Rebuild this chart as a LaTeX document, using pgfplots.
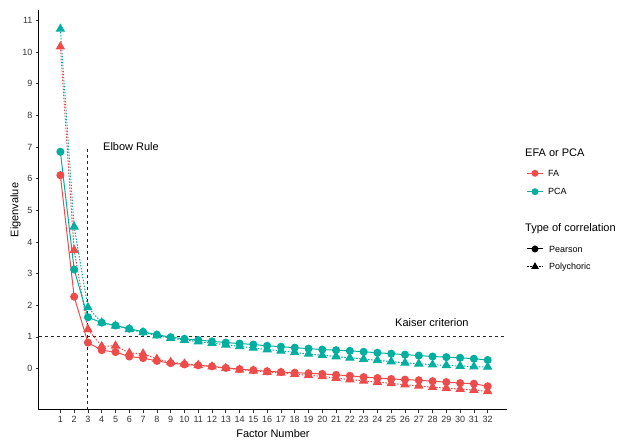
\documentclass[border=0pt]{standalone}
\usepackage{fontspec}
\setmainfont{Liberation Sans}
\usepackage{pgfplots}
\usepackage{pgfplotstable}
\pgfplotsset{compat=1.18}
\definecolor{cfa}{HTML}{EE4B4B}
\definecolor{cpca}{HTML}{00AFA0}
\definecolor{ticktext}{HTML}{333333}

\pgfplotstableread{
f  fap   fapoly  pcap  pcapoly
1  6.11  10.17   6.85  10.73
2  2.27  3.74    3.13  4.48
3  0.82  1.24    1.62  1.93
4  0.58  0.70    1.45  1.45
5  0.52  0.72    1.36  1.35
6  0.38  0.49    1.26  1.24
7  0.33  0.47    1.16  1.14
8  0.24  0.30    1.07  1.04
9  0.17  0.20    0.99  0.96
10 0.13  0.15    0.94  0.90
11 0.10  0.11    0.90  0.85
12 0.07  0.06    0.86  0.80
13 0.02  0.01    0.82  0.75
14 -0.02 -0.04   0.79  0.70
15 -0.05 -0.07   0.76  0.65
16 -0.09 -0.11   0.72  0.60
17 -0.11 -0.14   0.69  0.56
18 -0.13 -0.18   0.66  0.51
19 -0.15 -0.21   0.63  0.46
20 -0.17 -0.25   0.60  0.42
21 -0.20 -0.30   0.58  0.38
22 -0.23 -0.35   0.56  0.34
23 -0.27 -0.39   0.53  0.30
24 -0.30 -0.43   0.50  0.26
25 -0.33 -0.47   0.47  0.22
26 -0.35 -0.51   0.44  0.18
27 -0.37 -0.55   0.41  0.15
28 -0.40 -0.59   0.38  0.12
29 -0.43 -0.62   0.36  0.10
30 -0.46 -0.65   0.34  0.08
31 -0.48 -0.68   0.31  0.06
32 -0.56 -0.72   0.27  0.05
}\eigtab

\begin{document}
\begin{tikzpicture}[x=1pt,y=1pt]
\path (-39,-29) rectangle (580,410);
\begin{axis}[
  at={(0,0)}, anchor=south west,
  scale only axis, width=468pt, height=400pt,
  xmin=-0.55, xmax=33.4, ymin=-1.31, ymax=11.33,
  axis x line*=bottom, axis y line*=left,
  axis line style={-, black, line width=1pt},
  xtick={1,...,32}, ytick={0,...,11},
  tick align=outside, major tick length=3pt,
  tick style={black!80, line width=0.7pt},
  /pgf/number format/assume math mode=true,
  ticklabel style={font=\fontsize{9}{10}\selectfont, text=ticktext},
  xlabel={Factor Number}, ylabel={Eigenvalue},
  label style={font=\fontsize{11}{12}\selectfont},
  ylabel style={yshift=-5pt},
  clip=false,
]
\addplot[black!85, line width=1.1pt, dash pattern=on 3pt off 3pt] coordinates {(-0.55,1) (33.4,1)};
\addplot[black!85, line width=1.1pt, dash pattern=on 3pt off 3pt] coordinates {(3,-1.31) (3,7)};

\addplot[cfa, line width=1pt, dash pattern=on 1.5pt off 1.5pt, mark=triangle*, mark size=4.5pt, mark options={solid}] table[x=f, y=fapoly] {\eigtab};
\addplot[cpca, line width=1pt, dash pattern=on 1.5pt off 1.5pt, mark=triangle*, mark size=4.5pt, mark options={solid}] table[x=f, y=pcapoly] {\eigtab};
\addplot[cfa, line width=1pt, mark=*, mark size=3.5pt] table[x=f, y=fap] {\eigtab};
\addplot[cpca, line width=1pt, mark=*, mark size=3.5pt] table[x=f, y=pcap] {\eigtab};

\node[anchor=west, font=\fontsize{11}{12}\selectfont] at (axis cs:3.85,7) {Elbow Rule};
\node[font=\fontsize{11}{12}\selectfont] at (axis cs:27.95,1.45) {Kaiser criterion};
\end{axis}

% legend
\node[anchor=west, font=\fontsize{11}{12}\selectfont, inner sep=0pt] at (486,257) {EFA or PCA};
\draw[cfa, line width=1pt] (488,236.7) -- (504,236.7);
\fill[cfa] (496,236.7) circle (3.5pt);
\node[anchor=west, font=\fontsize{9}{10}\selectfont, inner sep=0pt] at (509,236.7) {FA};
\draw[cpca, line width=1pt] (488,218.3) -- (504,218.3);
\fill[cpca] (496,218.3) circle (3.5pt);
\node[anchor=west, font=\fontsize{9}{10}\selectfont, inner sep=0pt] at (509,218.3) {PCA};

\node[anchor=west, font=\fontsize{11}{12}\selectfont, inner sep=0pt] at (486,181.7) {Type of correlation};
\draw[black, line width=1pt] (488,161) -- (504,161);
\fill[black] (496,161) circle (3.5pt);
\node[anchor=west, font=\fontsize{9}{10}\selectfont, inner sep=0pt] at (510,161) {Pearson};
\draw[black, line width=1pt, dash pattern=on 1.5pt off 1.5pt] (488,143.3) -- (504,143.3);
\fill[black] (496,147.8) -- (492.1,141.05) -- (499.9,141.05) -- cycle;
\node[anchor=west, font=\fontsize{9}{10}\selectfont, inner sep=0pt] at (510,143.3) {Polychoric};
\end{tikzpicture}
\end{document}
